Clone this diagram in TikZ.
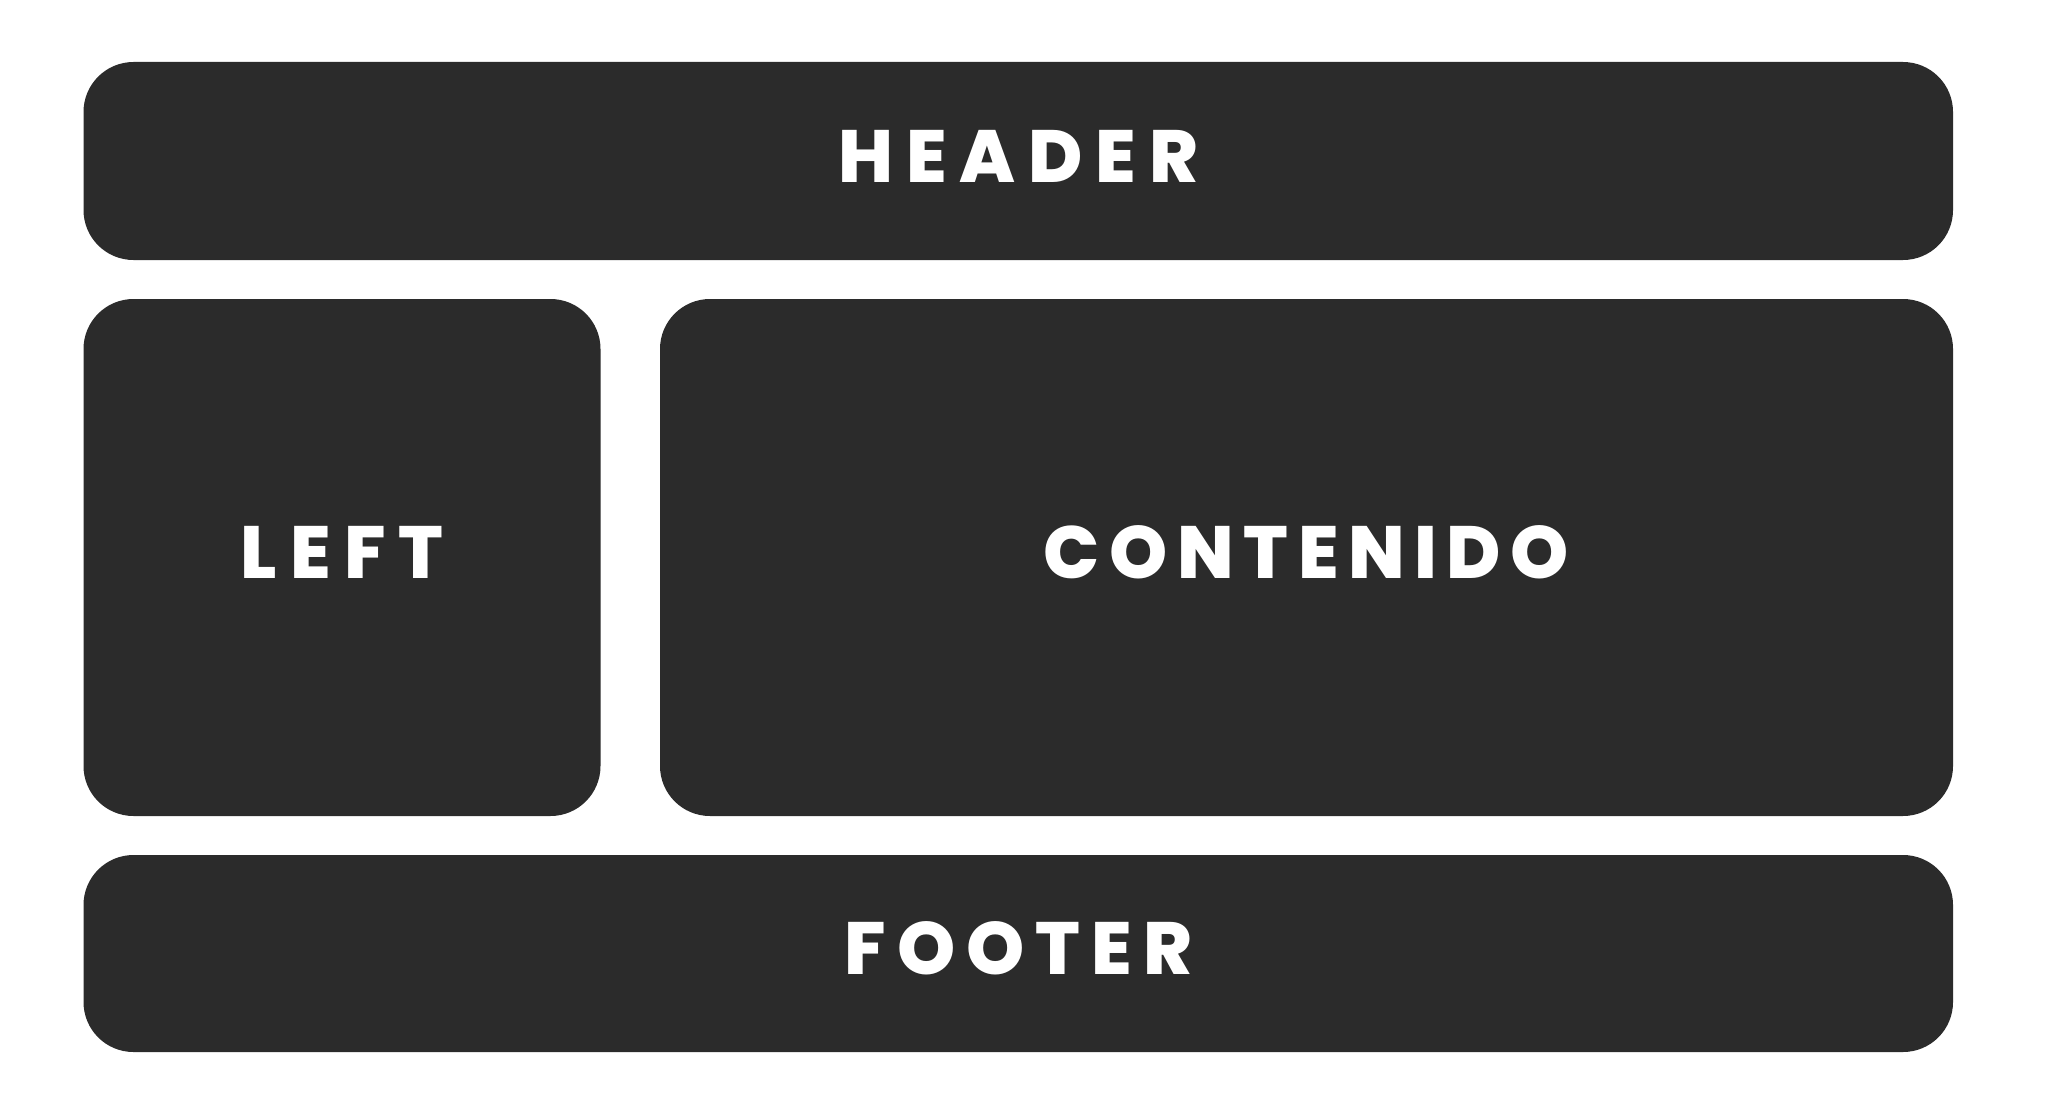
\documentclass[tikz,border=0pt]{standalone}
\usepackage{fontspec}
\IfFontExistsTF{Poppins ExtraBold}
  {\newfontfamily\boxfontfam{Poppins ExtraBold}\newcommand\boxweight{}}
  {\newfontfamily\boxfontfam{Poppins}\newcommand\boxweight{\bfseries}}
\definecolor{blockgray}{HTML}{2B2B2B}
\tikzset{
  blk/.style={fill=blockgray, draw=none, rounded corners=50pt, inner sep=0pt,
    text=white,
    font=\boxfontfam\boxweight\fontsize{74}{74}\selectfont\addfontfeature{LetterSpace=#1},
    text height=53pt, text depth=11pt, align=center},
}
\begin{document}
\begin{tikzpicture}[x=1pt,y=-1pt]
\useasboundingbox[fill=white] (0,0) rectangle (2047,1116);
\node[blk=17.5, minimum width=1869.5pt, minimum height=198pt] (header) at (1018.25,161) {HEADER};
\node[blk=18, minimum width=517pt, minimum height=517pt] (left) at (342,557.5) {LEFT};
\node[blk=13, minimum width=1293pt, minimum height=517pt] (contenido) at (1306.5,557.5) {CONTENIDO};
\node[blk=15, minimum width=1869.5pt, minimum height=197pt] (footer) at (1018.25,953.5) {FOOTER};
\end{tikzpicture}
\end{document}
